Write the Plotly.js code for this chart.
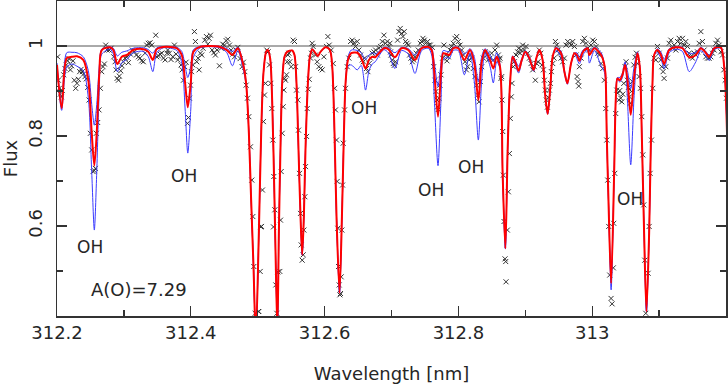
<!DOCTYPE html>
<html><head><meta charset="utf-8">
<script src="https://cdn.plot.ly/plotly-3.0.1.min.js"></script>
<style>html,body{margin:0;padding:0;background:#fff;} #chart{width:728px;height:385px;}</style>
</head><body><div id="chart"></div>
<script>
// Synthetic model wavelengths (nm)
const wavelengthModel = [
 312.200,312.207,312.2145,312.2224,312.2299,312.2393,312.2468,312.2519,312.2558,312.2594,
 312.2633,312.2669,312.2793,312.2842,312.2902,312.2968,312.3043,312.3141,312.3291,312.3366,
 312.3432,312.3491,312.3590,312.3791,312.3865,312.3915,312.3955,312.4000,312.4039,312.4139,
 312.4438,312.4539,312.4622,312.4703,312.4778,312.4827,312.4868,312.4902,312.4937,312.4972,
 312.5017,312.5052,312.5086,312.5126,312.5151,312.5186,312.5216,312.5251,312.5276,312.5295,
 312.5316,312.5340,312.5366,312.5400,312.5440,312.5515,312.5550,312.5580,312.5610,312.5640,
 312.5665,312.5690,312.5714,312.5750,312.5780,312.5815,312.5864,312.5900,312.5939,312.6014,
 312.6079,312.6114,312.6148,312.6178,312.6223,312.6259,312.6289,312.6313,312.6349,312.6398,
 312.6488,312.6548,312.6612,312.6663,312.6712,312.6757,312.6812,312.6887,312.6952,312.7052,
 312.7150,312.7251,312.7351,312.7450,312.7550,312.7600,312.7640,312.7695,312.7740,312.7774,
 312.7824,312.7864,312.7924,312.7999,312.8089,312.8174,312.8238,312.8298,312.8347,312.8398,
 312.8473,312.8522,312.8572,312.8622,312.8661,312.8702,312.8736,312.8772,312.8811,312.8851,
 312.8900,312.8948,312.9000,312.9060,312.9125,312.9165,312.9210,312.9259,312.9295,312.9334,
 312.9375,312.9409,312.9460,312.9535,312.9584,312.9629,312.9685,312.9734,312.9771,312.9809,
 312.9846,312.9883,312.9933,312.9958,313.0033,313.0134,313.0176,313.0198,313.0217,313.0243,
 313.0283,313.0328,313.0352,313.0377,313.0412,313.0452,313.0492,313.0527,313.0576,313.0627,
 313.0676,313.0711,313.0741,313.0776,313.0811,313.0851,313.0875,313.0901,313.0926,313.0975,
 313.1028,313.1076,313.1151,313.1249,313.1349,313.1450,313.1549,313.1623,313.1686,313.1749,
 313.1824,313.1922,313.1973,313.2022
];
// Best fit, A(O)=7.29 (red)
const fluxBest = [
 0.958,0.862,0.973,0.976,0.977,0.969,0.924,0.807,0.734,0.807,
 0.940,0.991,0.997,0.991,0.960,0.976,0.980,0.991,0.993,0.987,
 0.969,0.993,0.998,0.995,0.980,0.918,0.864,0.918,0.987,0.998,
 0.998,0.991,0.980,0.995,0.962,0.917,0.807,0.658,0.510,0.350,
 0.584,0.807,0.940,0.987,0.991,0.973,0.880,0.658,0.473,0.370,
 0.584,0.769,0.918,0.976,0.987,0.990,0.980,0.917,0.769,0.621,
 0.536,0.621,0.769,0.917,0.976,0.993,0.984,0.978,0.987,0.997,
 0.991,0.954,0.807,0.621,0.451,0.621,0.807,0.917,0.969,0.984,
 0.985,0.973,0.950,0.969,0.976,0.975,0.984,0.995,0.993,0.975,
 0.995,0.991,0.969,0.995,0.998,0.991,0.939,0.843,0.940,0.984,
 0.982,0.980,0.995,0.995,0.969,0.991,0.962,0.880,0.962,0.991,
 0.969,0.950,0.976,0.954,0.718,0.550,0.769,0.917,0.976,0.964,
 0.945,0.969,0.987,0.973,0.947,0.973,0.991,0.969,0.895,0.849,
 0.910,0.976,0.995,0.984,0.943,0.917,0.962,0.984,0.980,0.967,
 0.982,0.991,0.995,0.980,0.995,0.980,0.962,0.939,0.806,0.658,
 0.473,0.718,0.880,0.928,0.924,0.936,0.958,0.924,0.847,0.932,
 0.984,0.954,0.807,0.584,0.410,0.584,0.769,0.917,0.980,0.991,
 0.980,0.960,0.991,0.997,0.995,0.975,0.980,0.995,0.987,0.976,
 0.995,0.997,0.954,0.769
];
// Lower oxygen abundance (blue, shallower OH lines)
const fluxLowO = [
 0.962,0.870,0.985,0.986,0.985,0.976,0.945,0.870,0.824,0.870,
 0.957,0.993,0.998,0.995,0.978,0.986,0.989,0.995,0.996,0.992,
 0.984,0.996,0.999,0.997,0.988,0.955,0.930,0.955,0.992,0.999,
 0.999,0.994,0.988,0.997,0.966,0.918,0.807,0.658,0.510,0.350,
 0.584,0.807,0.940,0.987,0.991,0.973,0.880,0.658,0.473,0.370,
 0.584,0.769,0.918,0.976,0.987,0.990,0.980,0.917,0.769,0.621,
 0.536,0.621,0.769,0.917,0.976,0.993,0.984,0.978,0.987,0.997,
 0.991,0.954,0.807,0.621,0.451,0.621,0.807,0.917,0.975,0.991,
 0.990,0.985,0.970,0.980,0.985,0.982,0.988,0.997,0.996,0.985,
 0.997,0.994,0.980,0.997,0.999,0.995,0.962,0.910,0.962,0.990,
 0.988,0.987,0.997,0.997,0.982,0.994,0.975,0.920,0.975,0.994,
 0.980,0.965,0.985,0.958,0.718,0.550,0.769,0.917,0.978,0.968,
 0.955,0.972,0.989,0.976,0.950,0.973,0.991,0.969,0.895,0.849,
 0.910,0.976,0.997,0.988,0.947,0.920,0.962,0.984,0.985,0.975,
 0.987,0.994,0.996,0.988,0.997,0.985,0.965,0.940,0.806,0.658,
 0.480,0.718,0.880,0.930,0.930,0.940,0.962,0.945,0.905,0.955,
 0.987,0.954,0.807,0.584,0.410,0.584,0.769,0.917,0.980,0.994,
 0.986,0.970,0.994,0.998,0.997,0.983,0.986,0.997,0.990,0.980,
 0.997,0.998,0.954,0.769
];
// Higher oxygen abundance (blue, deeper OH lines)
const fluxHighO = [
 0.955,0.857,0.953,0.960,0.955,0.945,0.885,0.720,0.591,0.720,
 0.905,0.982,0.993,0.982,0.943,0.963,0.970,0.985,0.988,0.976,
 0.943,0.985,0.996,0.990,0.962,0.860,0.762,0.860,0.975,0.996,
 0.996,0.985,0.956,0.990,0.952,0.912,0.807,0.658,0.510,0.345,
 0.584,0.807,0.940,0.987,0.991,0.973,0.880,0.658,0.473,0.365,
 0.584,0.769,0.918,0.976,0.987,0.990,0.980,0.917,0.769,0.621,
 0.536,0.621,0.769,0.917,0.976,0.993,0.984,0.978,0.987,0.997,
 0.991,0.954,0.807,0.621,0.451,0.621,0.807,0.917,0.955,0.958,
 0.947,0.957,0.902,0.945,0.960,0.965,0.978,0.992,0.985,0.950,
 0.990,0.982,0.939,0.990,0.995,0.980,0.880,0.734,0.880,0.970,
 0.975,0.972,0.990,0.990,0.936,0.985,0.920,0.791,0.920,0.985,
 0.955,0.918,0.965,0.950,0.718,0.550,0.769,0.917,0.972,0.958,
 0.940,0.966,0.985,0.970,0.944,0.973,0.991,0.969,0.895,0.849,
 0.910,0.976,0.990,0.975,0.940,0.915,0.962,0.984,0.972,0.960,
 0.975,0.985,0.990,0.962,0.990,0.955,0.945,0.925,0.806,0.658,
 0.458,0.718,0.880,0.925,0.920,0.930,0.965,0.880,0.736,0.890,
 0.982,0.954,0.807,0.584,0.410,0.584,0.769,0.917,0.980,0.985,
 0.972,0.950,0.985,0.993,0.988,0.943,0.965,0.990,0.980,0.968,
 0.992,0.995,0.954,0.769
];
// Observed spectrum
const wavelengthObs = [
 312.2010,312.2020,312.2035,312.2050,312.2065,312.2080,312.2100,312.2120,312.2140,312.2160,
 312.2180,312.2200,312.2219,312.2239,312.2259,312.2279,312.2299,312.2319,312.2339,312.2359,
 312.2379,312.2399,312.2419,312.2439,312.2459,312.2479,312.2499,312.2519,312.2539,312.2558,
 312.2573,312.2588,312.2608,312.2628,312.2648,312.2668,312.2688,312.2708,312.2728,312.2748,
 312.2778,312.2808,312.2848,312.2868,312.2883,312.2898,312.2918,312.2932,312.2952,312.2972,
 312.2992,312.3017,312.3042,312.3067,312.3097,312.3127,312.3157,312.3187,312.3217,312.3242,
 312.3266,312.3291,312.3316,312.3341,312.3366,312.3391,312.3416,312.3476,312.3491,312.3516,
 312.3541,312.3566,312.3591,312.3616,312.3645,
 312.3655,312.3680,312.3705,312.3730,312.3755,312.3780,312.3805,312.3830,312.3855,312.3870,
 312.3890,312.3910,312.3930,312.3950,312.3965,312.3980,312.3995,312.4010,312.4030,312.4054,
 312.4069,312.4089,312.4109,312.4124,312.4144,312.4164,312.4184,312.4209,312.4234,312.4254,
 312.4274,312.4294,312.4319,312.4344,312.4368,312.4393,312.4428,312.4453,312.4478,312.4503,
 312.4528,312.4553,312.4578,312.4603,312.4628,312.4653,312.4678,312.4703,312.4737,312.4767,
 312.4787,312.4807,312.4827,312.4847,312.4867,312.4892,312.4912,312.4927,312.4942,312.4962,
 312.5011,312.5017,312.5037,312.5047,312.5057,312.5071,312.5086,312.5101,312.5116,312.5136,
 312.5156,312.5176,312.5196,312.5211,312.5226,312.5236,312.5241,312.5256,312.5271,312.5286,
 312.5301,312.5331,312.5341,312.5351,312.5366,312.5381,312.5391,312.5401,312.5416,312.5431,
 312.5441,312.5451,312.5466,312.5480,312.5500,312.5530,312.5550,312.5565,312.5580,312.5600,
 312.5610,312.5625,312.5640,312.5650,312.5665,312.5680,312.5690,312.5705,312.5715,312.5730,
 312.5740,312.5755,312.5770,312.5790,312.5804,312.5814,312.5829,312.5864,312.5889,312.5914,
 312.5939,312.5964,312.5989,312.6029,312.6049,312.6069,312.6099,312.6129,312.6149,312.6163,
 312.6178,312.6188,312.6198,312.6208,312.6218,312.6228,312.6238,312.6248,312.6258,312.6268,
 312.6278,312.6298,312.6313,312.6338,312.6363,312.6388,312.6413,312.6438,312.6463,312.6488,
 312.6513,312.6538,312.6563,312.6578,312.6597,312.6627,312.6647,312.6667,312.6687,312.6712,
 312.6737,312.6762,312.6787,312.6812,312.6837,312.6862,312.6887,312.6911,312.6936,312.6961,
 312.6986,
 312.6976,312.6991,312.7011,312.7026,312.7041,312.7061,312.7091,312.7111,312.7131,312.7151,
 312.7171,312.7191,312.7211,312.7231,312.7251,312.7271,312.7291,312.7311,312.7331,312.7351,
 312.7370,312.7400,312.7430,312.7450,312.7470,312.7490,312.7510,312.7540,312.7560,312.7580,
 312.7610,312.7630,312.7650,312.7665,312.7680,312.7690,312.7699,312.7709,312.7724,312.7739,
 312.7764,312.7784,312.7809,312.7829,312.7849,312.7874,312.7899,312.7924,312.7949,312.7974,
 312.7999,312.8024,312.8049,312.8074,312.8099,312.8119,312.8138,312.8158,312.8178,312.8198,
 312.8223,312.8248,312.8273,312.8288,312.8308,312.8328,312.8348,312.8373,312.8398,312.8423,
 312.8448,312.8472,312.8497,312.8522,312.8547,312.8572,312.8597,312.8622,312.8647,
 312.8612,312.8637,312.8652,312.8662,312.8672,312.8682,312.8697,312.8707,312.8712,312.8732,
 312.8747,312.8762,312.8776,312.8791,312.8801,312.8821,312.8836,312.8861,312.8886,312.8901,
 312.8921,312.8941,312.8961,312.8986,312.9011,312.9036,312.9061,312.9086,312.9111,312.9135,
 312.9150,312.9170,312.9190,312.9210,312.9230,312.9250,312.9270,312.9285,312.9300,312.9315,
 312.9330,312.9345,312.9360,312.9375,312.9390,312.9410,312.9430,312.9450,312.9470,312.9490,
 312.9509,312.9534,312.9559,312.9584,312.9609,312.9634,312.9659,312.9684,312.9709,312.9734,
 312.9759,312.9774,312.9789,312.9799,312.9809,312.9834,312.9859,312.9883,312.9908,312.9933,
 312.9958,312.9983,313.0008,313.0033,313.0058,313.0083,313.0108,313.0133,313.0158,313.0183,
 313.0203,313.0218,313.0233,313.0247,313.0262,313.0282,313.0297,313.0316,
 313.0322,313.0337,313.0352,313.0367,313.0382,313.0397,313.0412,313.0427,313.0442,313.0457,
 313.0472,313.0492,313.0507,313.0527,313.0542,313.0557,313.0571,313.0586,313.0601,313.0621,
 313.0641,313.0661,313.0681,313.0701,313.0721,313.0741,313.0756,313.0771,313.0786,313.0801,
 313.0836,313.0851,313.0866,313.0886,313.0906,313.0926,313.0950,313.0975,313.1000,313.1025,
 313.1040,313.1060,313.1075,313.1100,313.1125,313.1150,313.1175,313.1200,313.1225,313.1250,
 313.1275,313.1300,313.1324,313.1349,313.1374,313.1399,313.1424,313.1449,313.1474,313.1499,
 313.1524,313.1549,313.1574,313.1599,313.1624,313.1648,313.1673,313.1698,313.1723,313.1748,
 313.1773,313.1798,313.1823,313.1848,313.1873,313.1898,313.1923,313.1947,313.1967,313.1987,
 313.2007
];
const fluxObs = [
 0.976,0.924,0.906,0.893,0.887,0.901,0.936,0.950,0.958,0.967,
 0.972,0.947,0.956,0.967,0.924,0.906,0.917,0.926,0.943,0.948,
 0.943,0.938,0.932,0.927,0.908,0.880,0.806,0.769,0.721,0.723,
 0.728,0.806,0.830,0.858,0.906,0.943,0.954,0.960,1.002,0.991,
 0.991,0.995,0.976,0.965,0.947,0.928,0.924,0.933,0.945,0.956,
 0.965,0.973,0.975,0.963,0.982,0.991,0.987,0.980,0.976,0.973,
 0.967,0.965,0.984,1.002,1.006,1.007,1.002,1.024,0.976,0.978,
 0.982,0.984,0.973,0.969,0.984,
 0.991,0.984,0.970,0.976,1.002,0.982,0.969,0.975,0.958,0.947,
 0.924,0.954,0.964,0.828,0.841,0.884,0.913,0.943,0.958,1.032,
 1.010,0.965,0.973,0.947,0.984,0.980,0.995,1.013,1.021,1.004,
 1.017,1.024,0.991,0.985,0.980,0.991,0.956,0.995,1.004,1.002,
 1.012,1.015,1.002,0.991,0.982,0.976,0.991,0.997,0.972,0.954,
 0.964,0.943,0.913,0.884,0.843,0.776,0.702,0.621,0.510,0.406,
 0.410,0.410,0.499,0.598,0.599,0.680,0.832,0.891,0.917,0.991,
 0.987,0.958,0.917,0.861,0.791,0.598,0.710,0.636,0.469,0.406,
 0.498,0.499,0.613,0.721,0.806,0.865,0.902,0.928,0.924,0.936,
 0.965,0.980,0.984,0.965,0.954,1.013,1.010,0.954,0.902,0.880,
 0.813,0.717,0.628,0.558,0.524,0.536,0.591,0.665,0.732,0.799,
 0.861,0.904,0.926,0.973,0.984,1.006,0.999,0.980,0.965,0.954,
 0.950,0.947,0.976,0.999,1.021,1.002,0.991,0.961,0.906,0.858,
 0.791,0.699,0.595,0.510,0.469,0.447,0.450,0.487,0.591,0.691,
 0.784,0.858,0.906,0.954,0.973,1.010,1.013,1.006,0.999,1.010,
 0.991,0.980,0.969,0.965,0.973,0.950,0.943,0.961,0.973,0.984,
 0.987,0.991,0.980,0.995,0.999,1.010,1.024,1.006,1.010,0.999,
 0.987,
 1.006,0.980,0.969,0.961,0.957,0.965,1.013,1.032,1.039,1.028,
 1.021,1.032,1.010,1.006,1.002,0.980,0.973,0.965,0.969,0.976,
 0.984,0.991,1.006,1.010,1.017,1.013,1.006,1.010,1.002,1.002,
 0.997,0.954,0.924,0.899,0.880,0.865,0.859,0.884,0.913,0.936,
 0.973,1.002,0.980,0.967,0.976,0.991,0.999,1.006,1.017,1.021,
 1.010,1.002,0.991,0.980,0.965,0.947,0.954,0.969,0.980,0.973,
 0.950,0.932,0.913,0.891,0.876,0.921,0.954,0.973,0.987,0.980,
 0.969,0.973,0.984,0.969,0.991,1.002,0.980,0.973,0.932,
 0.969,0.928,0.880,0.810,0.713,0.610,0.527,0.521,0.476,0.591,
 0.676,0.761,0.839,0.887,0.917,0.954,0.965,0.980,0.987,0.995,
 0.984,0.991,1.002,0.991,0.999,0.984,0.973,0.961,0.947,0.954,
 0.924,0.961,0.965,0.991,0.984,0.958,0.947,0.924,0.902,0.880,
 0.864,0.886,0.902,0.917,0.943,0.961,0.973,1.010,1.002,0.991,
 0.984,0.973,0.965,0.973,1.002,1.010,1.006,1.002,1.010,0.999,
 0.980,0.932,0.921,0.911,0.954,0.973,1.010,1.017,1.006,0.995,
 0.991,1.002,1.013,1.010,0.999,0.984,0.980,0.961,0.950,0.924,
 0.861,0.791,0.702,0.599,0.491,0.439,0.427,0.507,
 0.606,0.717,0.850,0.902,0.895,0.880,0.901,0.884,0.876,0.893,
 0.917,0.954,0.965,0.924,0.908,0.887,0.873,0.899,0.921,0.958,
 0.975,0.984,0.961,0.932,0.906,0.843,0.758,0.647,0.524,0.406,
 0.495,0.599,0.717,0.791,0.906,0.973,0.969,0.999,0.984,0.969,
 0.954,0.943,0.928,0.954,0.973,1.006,1.013,0.995,1.002,0.991,
 1.010,1.017,1.006,1.017,1.002,1.010,0.999,0.984,0.976,0.973,
 0.984,0.980,0.987,1.006,1.032,1.010,0.991,0.976,0.973,0.973,
 0.976,0.984,0.991,1.006,1.013,1.002,0.987,0.980,0.947,0.924,
 0.884
];
// Axis ticks
const xTickVals = [312.2, 312.4, 312.6, 312.8, 313];
const xTickText = ['312.2', '312.4', '312.6', '312.8', '313'];
const xMinorVals = [312.3, 312.5, 312.7, 312.9, 313.1];
const yTickVals = [0.6, 0.8, 1];
const yTickText = ['0.6', '0.8', '1'];
const yMinorVals = [0.5, 0.7, 0.9];
// Line labels
const labelText = ['OH','OH','OH','OH','OH','OH','A(O)=7.29'];
const labelX = [312.2486, 312.390, 312.659, 312.759, 312.819, 313.056, 312.322];
const labelY = [0.553, 0.711, 0.862, 0.680, 0.731, 0.660, 0.460];

const smooth = 0.8;
const traces = [
  {type:'scatter', mode:'markers', x: wavelengthObs, y: fluxObs, hoverinfo:'skip', cliponaxis:true,
   marker:{symbol:'x-thin', size:5, color:'#333', line:{width:1, color:'#333'}}},
  {type:'scatter', mode:'lines', x: wavelengthModel, y: fluxLowO, hoverinfo:'skip',
   line:{color:'#3b3bff', width:1, shape:'spline', smoothing:smooth}},
  {type:'scatter', mode:'lines', x: wavelengthModel, y: fluxHighO, hoverinfo:'skip',
   line:{color:'#3b3bff', width:1, shape:'spline', smoothing:smooth}},
  {type:'scatter', mode:'lines', x: wavelengthModel, y: fluxBest, hoverinfo:'skip',
   line:{color:'#ff0000', width:2, shape:'spline', smoothing:smooth}}
];
const axisCommon = {
  ticks:'inside', ticklen:10, tickwidth:1.2, tickcolor:'#333',
  showline:true, linecolor:'#333', linewidth:1.5, mirror:'ticks',
  showgrid:false, zeroline:false, tickmode:'array'
};
const layout = {
  width:728, height:385,
  margin:{l:57, r:2, t:1, b:69},
  paper_bgcolor:'#fff', plot_bgcolor:'#fff',
  showlegend:false,
  font:{family:'DejaVu Sans', size:18, color:'#262626'},
  xaxis:Object.assign({}, axisCommon, {
    range:[312.2, 313.2], tickvals:xTickVals, ticktext:xTickText,
    minor:{tickmode:'array', tickvals:xMinorVals, ticks:'inside', ticklen:6, tickwidth:1.2, tickcolor:'#333'},
    ticklabelstandoff:0,
    title:{text:'Wavelength [nm]', standoff:25, font:{size:18}}
  }),
  yaxis:Object.assign({}, axisCommon, {
    range:[0.4, 1.1], tickvals:yTickVals, ticktext:yTickText, tickangle:-90,
    minor:{tickmode:'array', tickvals:yMinorVals, ticks:'inside', ticklen:6, tickwidth:1.2, tickcolor:'#333'},
    ticklabelstandoff:6,
    title:{text:'Flux', standoff:7, font:{size:18}}
  }),
  shapes:[{type:'line', xref:'paper', x0:0, x1:1, yref:'y', y0:1, y1:1, layer:'below',
           line:{color:'#555', width:1}}],
  annotations: labelText.map((t,i)=>({x:labelX[i], y:labelY[i], xref:'x', yref:'y', text:t,
    showarrow:false, xanchor:'center', yanchor:'middle', font:{size: t==='OH'?17:18, color:'#262626'}}))
};
Plotly.newPlot('chart', traces, layout, {staticPlot:true, displayModeBar:false});
</script>
</body></html>
